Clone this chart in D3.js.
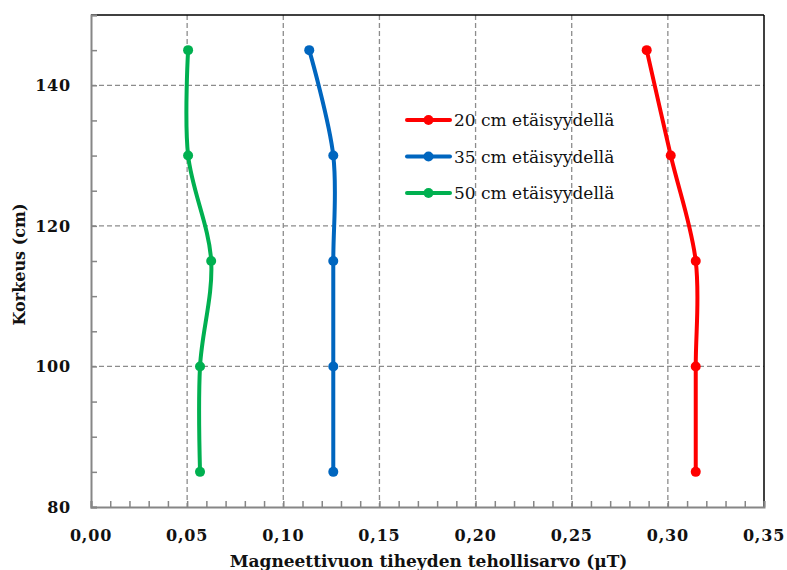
<!DOCTYPE html>
<html>
<head>
<meta charset="utf-8">
<script src="https://cdn.jsdelivr.net/npm/d3@7"></script>
<style>
  body { margin: 0; background: #fff; }
  text { font-family: "DejaVu Serif", serif; }
</style>
</head>
<body>
<div id="chart"></div>
<script>
// heights (cm) and field values (µT) for each distance
var heights = [145, 130, 115, 100, 85];
var red20 = [0.289, 0.3015, 0.3145, 0.3145, 0.3145];
var blue35 = [0.1135, 0.126, 0.126, 0.126, 0.126];
var green50 = [0.0505, 0.0505, 0.0625, 0.0567, 0.0567];
var seriesNames = ["20 cm etäisyydellä", "35 cm etäisyydellä", "50 cm etäisyydellä"];
var xTicks = [0, 0.05, 0.10, 0.15, 0.20, 0.25, 0.30, 0.35];
var yTicks = [80, 100, 120, 140];

var colors = ["#ff0000", "#0066bf", "#00b050"];

var margin = {top: 15, right: 23, bottom: 63, left: 91},
    width = 787 - margin.left - margin.right,
    height = 570 - margin.top - margin.bottom;

var svg = d3.select("#chart")
    .append("svg")
        .attr("width", 787)
        .attr("height", 570)
    .append("g")
        .attr("transform", "translate(" + margin.left + "," + margin.top + ")");

var x = d3.scaleLinear().domain([0, 0.35]).range([0, width]);
var y = d3.scaleLinear().domain([80, 150]).range([height, 0]);

// grid
svg.append("g")
    .selectAll("line")
    .data(xTicks.slice(1, -1))
    .enter()
    .append("line")
        .attr("x1", function(d) { return x(d) })
        .attr("x2", function(d) { return x(d) })
        .attr("y1", 0)
        .attr("y2", height)
        .attr("stroke", "#8c8c8c")
        .attr("stroke-width", 1.3)
        .attr("stroke-dasharray", "5,3");

svg.append("g")
    .selectAll("line")
    .data(yTicks.slice(1))
    .enter()
    .append("line")
        .attr("x1", 0)
        .attr("x2", width)
        .attr("y1", function(d) { return y(d) })
        .attr("y2", function(d) { return y(d) })
        .attr("stroke", "#8c8c8c")
        .attr("stroke-width", 1.3)
        .attr("stroke-dasharray", "5,3");

// top and right frame
svg.append("line").attr("x1", 0).attr("x2", width).attr("y1", 0).attr("y2", 0)
    .attr("stroke", "#000").attr("stroke-width", 1.5);
svg.append("line").attr("x1", width).attr("x2", width).attr("y1", 0).attr("y2", height)
    .attr("stroke", "#000").attr("stroke-width", 1.5);

// axes with inward minor ticks
var xAxis = svg.append("g")
    .attr("transform", "translate(0," + height + ")")
    .call(d3.axisBottom(x).tickValues(d3.range(0, 0.3501, 0.01)).tickSize(-6).tickFormat(""));
var yAxis = svg.append("g")
    .call(d3.axisLeft(y).tickValues(d3.range(80, 150.1, 5)).tickSize(-6).tickFormat(""));
svg.selectAll(".domain").attr("stroke", "#868686").attr("stroke-width", 2);
svg.selectAll(".tick line").attr("stroke", "#868686").attr("stroke-width", 1.5);

svg.append("g")
    .selectAll("text")
    .data(xTicks)
    .enter()
    .append("text")
        .attr("x", function(d) { return x(d) })
        .attr("y", height + 34)
        .attr("text-anchor", "middle")
        .style("font-size", "16px")
        .style("font-weight", "bold")
        .style("letter-spacing", "0.8px")
        .attr("fill", "#111")
        .text(function(d) { return d3.format(".2f")(d).replace(".", ","); });

svg.append("g")
    .selectAll("text")
    .data(yTicks)
    .enter()
    .append("text")
        .attr("x", -20)
        .attr("y", function(d) { return y(d) + 6 })
        .attr("text-anchor", "end")
        .style("font-size", "16px")
        .style("font-weight", "bold")
        .style("letter-spacing", "0.8px")
        .attr("fill", "#111")
        .text(function(d) { return d; });

svg.append("text")
    .attr("x", width / 2 + 1)
    .attr("y", height + 60)
    .attr("text-anchor", "middle")
    .style("font-size", "17px")
    .style("font-weight", "bold")
    .attr("fill", "#111")
    .text("Magneettivuon tiheyden tehollisarvo (µT)");

svg.append("text")
    .attr("transform", "translate(-66," + (y(114.5)) + ") rotate(-90)")
    .attr("text-anchor", "middle")
    .style("font-size", "16px")
    .style("font-weight", "bold")
    .attr("fill", "#111")
    .text("Korkeus (cm)");

// series
var series = [red20, blue35, green50].map(function(vals, i) {
    return {name: seriesNames[i], color: colors[i],
            points: vals.map(function(v, j) { return {x: v, h: heights[j]}; })};
});

var line = d3.line()
    .x(function(d) { return x(d.x) })
    .y(function(d) { return y(d.h) })
    .curve(d3.curveCatmullRom.alpha(0));

series.forEach(function(s) {
    svg.append("path")
        .datum(s.points)
        .attr("fill", "none")
        .attr("stroke", s.color)
        .attr("stroke-width", 4)
        .attr("stroke-linecap", "round")
        .attr("d", line);
    svg.append("g")
        .selectAll("circle")
        .data(s.points)
        .enter()
        .append("circle")
            .attr("cx", function(d) { return x(d.x) })
            .attr("cy", function(d) { return y(d.h) })
            .attr("r", 5)
            .attr("fill", s.color);
});

// legend
var legend = svg.append("g")
    .attr("transform", "translate(" + (407 - margin.left) + "," + (120 - margin.top) + ")");
series.forEach(function(s, i) {
    var g = legend.append("g").attr("transform", "translate(0," + (i * 36.5) + ")");
    g.append("line").attr("x1", 0).attr("x2", 43).attr("y1", 0).attr("y2", 0)
        .attr("stroke", s.color).attr("stroke-width", 4).attr("stroke-linecap", "round");
    g.append("circle").attr("cx", 21.5).attr("cy", 0).attr("r", 5).attr("fill", s.color);
    g.append("text").attr("x", 47).attr("y", 6)
        .style("font-size", "17px")
        .attr("fill", "#111")
        .text(s.name);
});
</script>
</body>
</html>
